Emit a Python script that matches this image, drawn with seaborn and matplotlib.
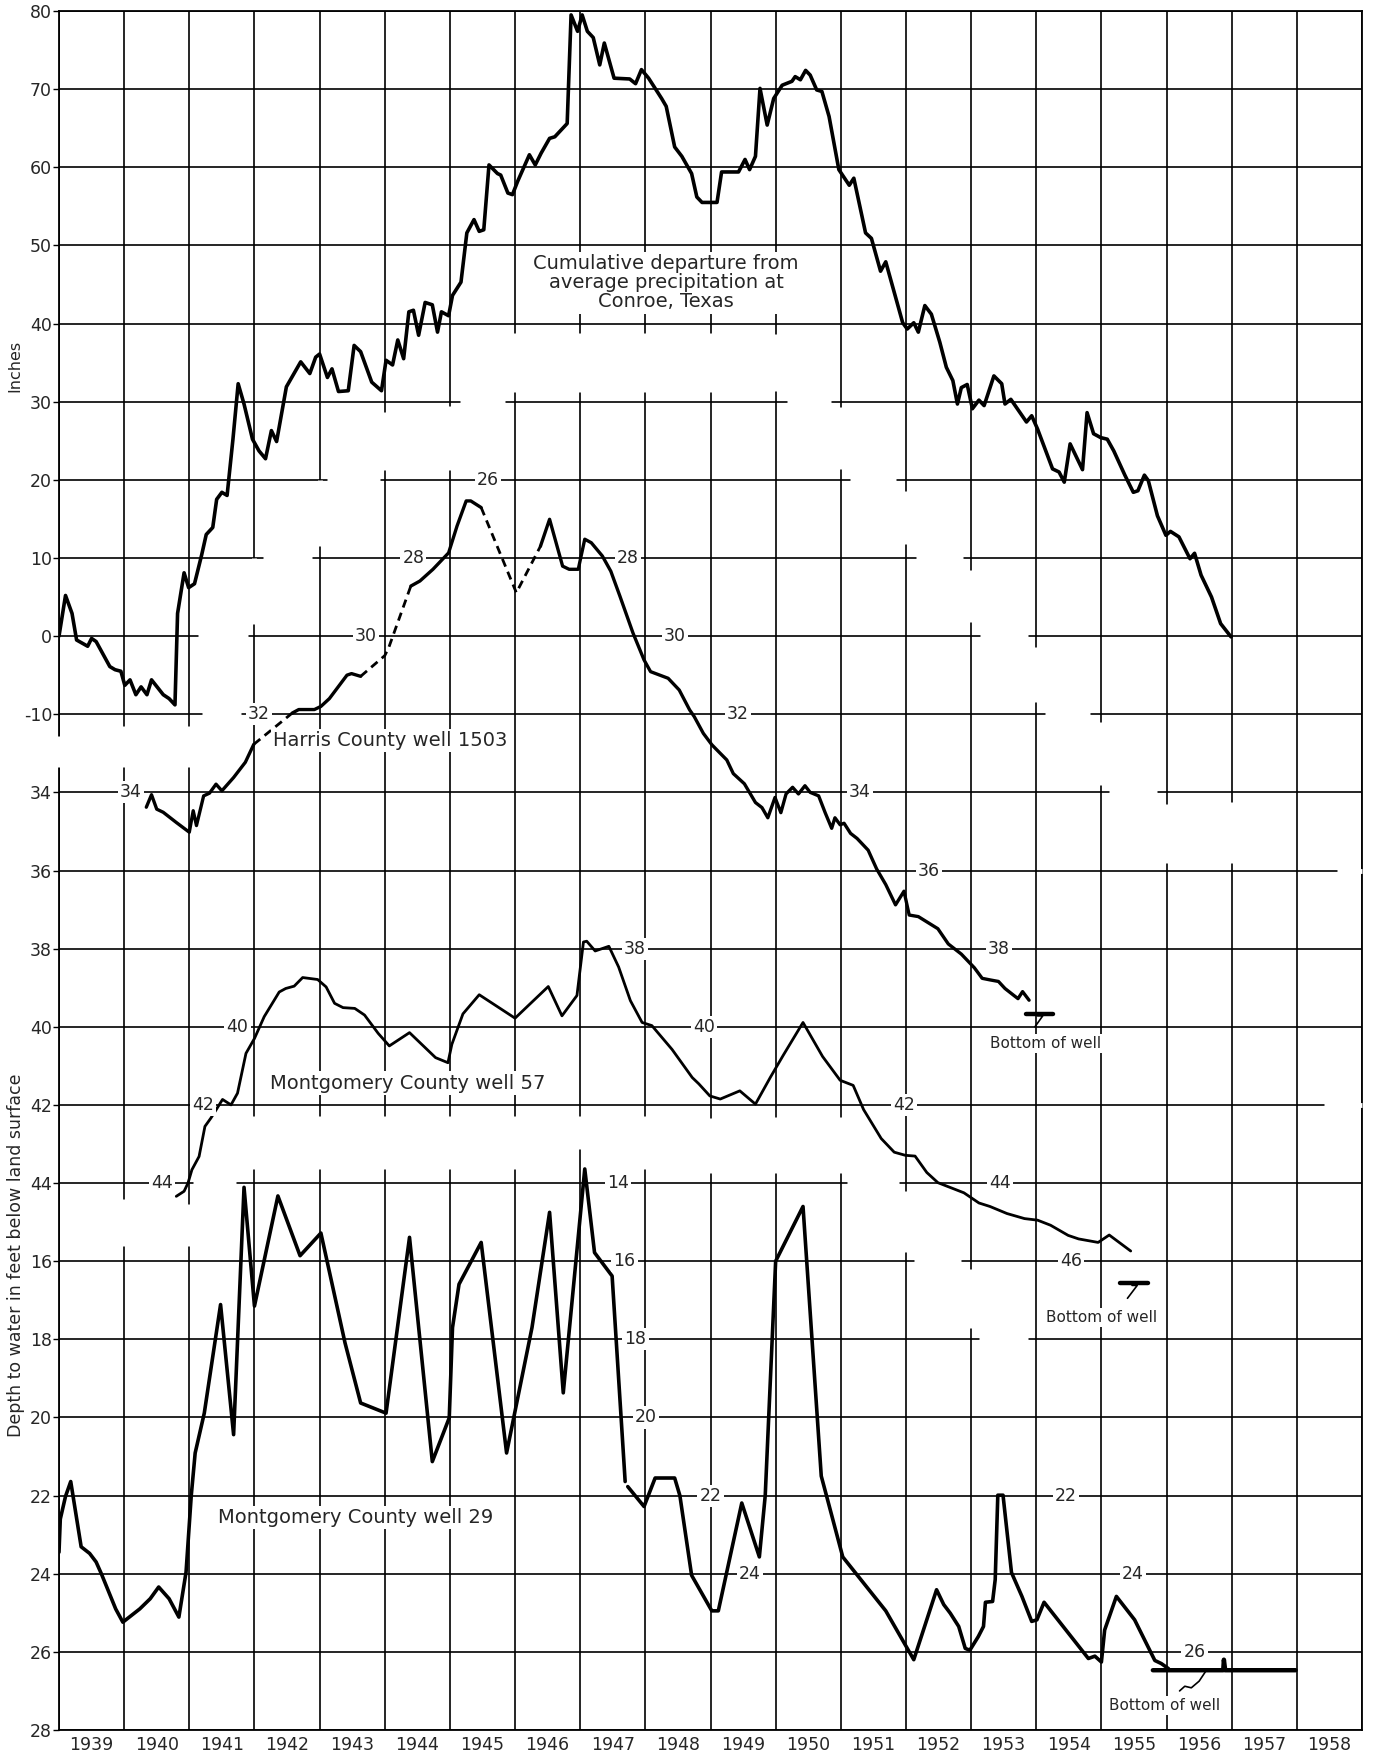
import numpy as np
import pandas as pd
import seaborn as sns
import matplotlib.pyplot as plt

# Cumulative departure from average precipitation at Conroe, Texas (inches)
precip_year = [1939.0, 1939.1, 1939.2, 1939.27, 1939.4, 1939.44, 1939.5, 1939.57, 1939.78, 1939.86,
               1939.95, 1940.01, 1940.09, 1940.18, 1940.26, 1940.35, 1940.42, 1940.6, 1940.69, 1940.78,
               1940.82, 1940.92, 1940.99, 1941.08, 1941.19, 1941.26, 1941.36, 1941.42, 1941.5, 1941.58,
               1941.67, 1941.75, 1941.84, 1941.97, 1942.07, 1942.17, 1942.26, 1942.34, 1942.49, 1942.71,
               1942.85, 1942.94, 1943.0, 1943.12, 1943.19, 1943.29, 1943.44, 1943.53, 1943.63, 1943.8,
               1943.95, 1944.02, 1944.12, 1944.2, 1944.29, 1944.37, 1944.44, 1944.52, 1944.62, 1944.73,
               1944.81, 1944.87, 1944.98, 1945.04, 1945.17, 1945.26, 1945.37, 1945.45, 1945.52, 1945.6,
               1945.73, 1945.78, 1945.89, 1945.96, 1946.04, 1946.22, 1946.31, 1946.4, 1946.53, 1946.61,
               1946.71, 1946.8, 1946.86, 1946.96, 1947.03, 1947.11, 1947.2, 1947.3, 1947.37, 1947.52,
               1947.76, 1947.85, 1947.94, 1948.05, 1948.25, 1948.32, 1948.45, 1948.56, 1948.71, 1948.79,
               1948.87, 1949.1, 1949.17, 1949.43, 1949.53, 1949.6, 1949.69, 1949.76, 1949.87, 1949.97,
               1950.1, 1950.25, 1950.3, 1950.38, 1950.46, 1950.53, 1950.63, 1950.71, 1950.82, 1950.97,
               1951.13, 1951.2, 1951.38, 1951.47, 1951.61, 1951.69, 1951.95, 1952.02, 1952.12, 1952.19,
               1952.29, 1952.39, 1952.52, 1952.62, 1952.72, 1952.79, 1952.85, 1952.94, 1953.02, 1953.12,
               1953.2, 1953.35, 1953.47, 1953.52, 1953.61, 1953.85, 1953.93, 1954.02, 1954.25, 1954.35,
               1954.43, 1954.52, 1954.71, 1954.78, 1954.88, 1954.99, 1955.09, 1955.19, 1955.36, 1955.49,
               1955.56, 1955.66, 1955.72, 1955.86, 1955.99, 1956.06, 1956.19, 1956.36, 1956.43, 1956.53,
               1956.69, 1956.83, 1956.99]
precip_in = [0.0, 5.2, 2.9, -0.5, -1.1, -1.3, -0.3, -0.7, -3.9, -4.3,
             -4.5, -6.3, -5.6, -7.5, -6.5, -7.5, -5.6, -7.5, -8.0, -8.8,
             2.9, 8.1, 6.2, 6.7, 10.4, 13.0, 13.9, 17.5, 18.4, 18.0,
             25.2, 32.3, 29.7, 25.2, 23.7, 22.7, 26.3, 24.9, 31.9, 35.1,
             33.6, 35.7, 36.1, 33.1, 34.2, 31.3, 31.4, 37.2, 36.4, 32.5,
             31.4, 35.3, 34.7, 37.9, 35.5, 41.5, 41.7, 38.5, 42.7, 42.4,
             38.9, 41.5, 41.0, 43.6, 45.3, 51.6, 53.3, 51.8, 52.0, 60.3,
             59.2, 59.0, 56.7, 56.5, 58.2, 61.6, 60.3, 61.8, 63.7, 63.9,
             64.8, 65.6, 79.5, 77.4, 79.5, 77.4, 76.6, 73.1, 75.9, 71.4,
             71.3, 70.7, 72.5, 71.4, 68.8, 67.8, 62.6, 61.4, 59.2, 56.2,
             55.5, 55.5, 59.4, 59.4, 61.0, 59.7, 61.4, 70.1, 65.4, 68.8,
             70.5, 71.0, 71.6, 71.2, 72.4, 71.8, 69.9, 69.7, 66.5, 59.7,
             57.7, 58.6, 51.6, 50.9, 46.7, 47.9, 40.1, 39.3, 40.1, 38.9,
             42.3, 41.2, 37.6, 34.4, 32.7, 29.7, 31.8, 32.2, 29.1, 30.2,
             29.5, 33.3, 32.3, 29.7, 30.3, 27.4, 28.2, 26.5, 21.4, 21.0,
             19.7, 24.6, 21.3, 28.6, 25.9, 25.4, 25.2, 23.7, 20.6, 18.4,
             18.6, 20.6, 19.9, 15.4, 12.9, 13.4, 12.7, 9.9, 10.6, 7.8,
             5.0, 1.6, -0.1]

# Harris County well 1503, depth to water (ft); piece = continuous stretch, dashed = estimated
harris_year = [1940.34, 1940.42, 1940.5, 1940.6, 1940.8, 1941.0, 1941.06, 1941.11, 1941.22, 1941.31,
               1941.41, 1941.5, 1941.68, 1941.86, 1941.99,
               1941.99, 1942.58,
               1942.58, 1942.68, 1942.92, 1943.02, 1943.15, 1943.42, 1943.49, 1943.63,
               1943.63, 1944.0, 1944.06, 1944.4,
               1944.4, 1944.54, 1944.74, 1944.98, 1945.11, 1945.25, 1945.32, 1945.48,
               1945.48, 1946.02, 1946.39,
               1946.39, 1946.53, 1946.63, 1946.73, 1946.83, 1946.97, 1947.07, 1947.17, 1947.34, 1947.47,
               1947.61, 1947.81, 1947.98, 1948.08, 1948.35, 1948.52, 1948.68, 1948.75, 1948.89, 1949.02,
               1949.09, 1949.25, 1949.35, 1949.52, 1949.69, 1949.79, 1949.88, 1949.99, 1950.08, 1950.16,
               1950.26, 1950.35, 1950.45, 1950.53, 1950.66, 1950.76, 1950.86, 1950.91, 1950.99, 1951.05,
               1951.15, 1951.25, 1951.42, 1951.55, 1951.69, 1951.84, 1951.97, 1952.05, 1952.19, 1952.49,
               1952.65, 1952.85, 1953.05, 1953.17, 1953.29, 1953.42, 1953.52, 1953.65, 1953.72, 1953.79,
               1953.89]
harris_depth = [34.38, 34.06, 34.43, 34.51, 34.77, 35.02, 34.47, 34.85, 34.09, 34.02,
                33.79, 33.96, 33.62, 33.23, 32.77,
                32.77, 31.97,
                31.97, 31.88, 31.88, 31.8, 31.6, 31.0, 30.96, 31.03,
                31.03, 30.5, 30.3, 28.72,
                28.72, 28.59, 28.29, 27.87, 27.18, 26.54, 26.54, 26.71,
                26.71, 28.89, 27.7,
                27.7, 27.01, 27.61, 28.21, 28.29, 28.29, 27.52, 27.61, 27.95, 28.34,
                28.98, 29.92, 30.61, 30.91, 31.08, 31.38, 31.89, 32.06, 32.49, 32.78,
                32.9, 33.17, 33.52, 33.78, 34.26, 34.39, 34.65, 34.13, 34.52, 34.04,
                33.87, 34.04, 33.83, 34.0, 34.09, 34.52, 34.92, 34.65, 34.83, 34.79,
                35.05, 35.18, 35.48, 35.96, 36.36, 36.88, 36.53, 37.14, 37.18, 37.49,
                37.88, 38.14, 38.49, 38.76, 38.8, 38.84, 39.02, 39.19, 39.28, 39.1,
                39.32]
harris_piece = [0] * 15 + [1] * 2 + [2] * 8 + [3] * 4 + [4] * 8 + [5] * 3 + [6] * 61
harris_dashed_pieces = [1, 3, 5]

# Montgomery County well 57, depth to water (ft)
m57_year = [1940.8, 1940.92, 1940.98, 1941.04, 1941.15, 1941.24, 1941.33, 1941.41, 1941.51, 1941.64,
            1941.74, 1941.87, 1942.0, 1942.15, 1942.38, 1942.48, 1942.61, 1942.74, 1942.97, 1943.1,
            1943.23, 1943.36, 1943.54, 1943.69, 1943.9, 1944.07, 1944.38, 1944.78, 1944.97, 1945.03,
            1945.2, 1945.45, 1946.0, 1946.51, 1946.72, 1946.95, 1947.05, 1947.1, 1947.23, 1947.44,
            1947.59, 1947.77, 1947.95, 1948.1, 1948.41, 1948.72, 1948.82, 1948.99, 1949.15, 1949.45,
            1949.69, 1949.92, 1950.12, 1950.42, 1950.72, 1950.99, 1951.19, 1951.35, 1951.62, 1951.82,
            1951.99, 1952.14, 1952.32, 1952.49, 1952.69, 1952.89, 1953.12, 1953.29, 1953.55, 1953.82,
            1954.02, 1954.22, 1954.49, 1954.65, 1954.95, 1955.12, 1955.45]
m57_depth = [44.34, 44.21, 44.0, 43.66, 43.32, 42.55, 42.34, 42.13, 41.86, 42.0,
             41.7, 40.68, 40.3, 39.74, 39.11, 39.02, 38.96, 38.74, 38.79, 38.98,
             39.4, 39.51, 39.53, 39.7, 40.17, 40.49, 40.15, 40.79, 40.92, 40.45,
             39.67, 39.18, 39.78, 38.97, 39.72, 39.2, 37.83, 37.81, 38.06, 37.94,
             38.47, 39.33, 39.89, 39.97, 40.58, 41.3, 41.46, 41.77, 41.85, 41.64,
             41.98, 41.29, 40.72, 39.89, 40.76, 41.37, 41.5, 42.12, 42.86, 43.21,
             43.29, 43.31, 43.73, 43.99, 44.12, 44.25, 44.51, 44.6, 44.78, 44.91,
             44.95, 45.08, 45.34, 45.43, 45.52, 45.33, 45.74]

# Montgomery County well 29, depth to water (ft)
m29_year = [1939.0, 1939.02, 1939.1, 1939.18, 1939.34, 1939.47, 1939.57, 1939.65, 1939.87, 1939.98,
            1940.24, 1940.4, 1940.53, 1940.69, 1940.84, 1940.95, 1941.03, 1941.09, 1941.23, 1941.48,
            1941.68, 1941.84, 1942.0, 1942.36, 1942.7, 1943.02, 1943.39, 1943.63, 1944.02, 1944.38,
            1944.73, 1944.99, 1945.04, 1945.14, 1945.48, 1945.87, 1946.26, 1946.53, 1946.74, 1947.07,
            1947.22, 1947.49, 1947.69,
            1947.73, 1947.98, 1948.15, 1948.45, 1948.53, 1948.71, 1949.02, 1949.12, 1949.48, 1949.75,
            1949.84, 1950.0, 1950.42, 1950.7, 1950.78, 1951.03, 1951.69, 1952.12, 1952.47, 1952.58,
            1952.68, 1952.81, 1952.91, 1952.98, 1953.11, 1953.19, 1953.22, 1953.33, 1953.37, 1953.41,
            1953.49, 1953.62, 1953.78, 1953.93, 1954.01, 1954.12, 1954.29, 1954.8, 1954.9, 1955.0,
            1955.05, 1955.23, 1955.51, 1955.82, 1955.92, 1956.03]
m29_depth = [23.45, 22.6, 22.02, 21.64, 23.31, 23.48, 23.7, 24.0, 24.9, 25.24,
             24.9, 24.64, 24.34, 24.64, 25.11, 23.96, 22.0, 20.91, 19.89, 17.11,
             20.44, 14.11, 17.15, 14.33, 15.86, 15.28, 18.09, 19.63, 19.89, 15.39,
             21.13, 20.01, 17.7, 16.59, 15.52, 20.91, 17.7, 14.75, 19.37, 13.64,
             15.78, 16.38, 21.64,
             21.77, 22.28, 21.55, 21.55, 22.0, 24.04, 24.95, 24.95, 22.19, 23.57,
             22.0, 16.0, 14.6, 21.5, 22.0, 23.57, 24.95, 26.2, 24.41, 24.79,
             25.01, 25.35, 25.91, 25.96, 25.61, 25.35, 24.73, 24.71, 24.15, 21.99,
             21.99, 23.97, 24.58, 25.22, 25.18, 24.73, 25.09, 26.17, 26.11, 26.26,
             25.44, 24.58, 25.18, 26.22, 26.3, 26.43]
m29_piece = [0] * 43 + [1] * (len(m29_year) - 43)

# water level at bottom of well 29 (dry well)
m29_bottom_year = [1955.79, 1956.87, 1956.88, 1956.9, 1957.98]
m29_bottom_depth = [26.47, 26.47, 26.2, 26.47, 26.47]

# left axis tick labels, one per grid line
ytick_labels = ['80', '70', '60', '50', '40', '30', '20', '10', '0', '-10',
                '34', '36', '38', '40', '42', '44',
                '16', '18', '20', '22', '24', '26', '28']
years = list(range(1939, 1959))

# breaks in the drafted grid where the separate graphs meet (grid units)
gaps_h = [(5, 1945.15, 1945.84), (6, 1943.12, 1943.93), (7, 1942.13, 1942.88),
          (8, 1941.14, 1941.9), (9, 1941.19, 1941.8),
          (5, 1950.17, 1950.85), (6, 1951.14, 1951.85), (7, 1952.15, 1952.87),
          (8, 1953.14, 1953.87), (9, 1954.14, 1954.82), (10, 1955.12, 1955.85),
          (11, 1958.62, 1959.0), (14, 1958.42, 1959.0),
          (15, 1941.05, 1941.72), (15, 1951.09, 1951.89), (16, 1952.12, 1952.85),
          (17, 1953.12, 1953.88)]
gaps_v = [(1942, 7.0, 7.85), (1943, 6.0, 6.85), (1944, 5.13, 5.87), (1945, 5.05, 5.87),
          (1946, 4.12, 4.88), (1947, 4.12, 4.88), (1948, 4.12, 4.88), (1949, 4.12, 4.88),
          (1950, 4.14, 4.86), (1951, 5.07, 5.86), (1952, 6.14, 6.82), (1953, 7.16, 7.82),
          (1954, 8.14, 8.84), (1955, 9.1, 9.9), (1956, 10.15, 10.9), (1957, 10.12, 10.9),
          (1939, 9.28, 9.68), (1940, 9.15, 9.68), (1941, 9.15, 9.68),
          (1942, 14.14, 14.82), (1943, 14.14, 14.82), (1944, 14.14, 14.82), (1945, 14.14, 14.82),
          (1946, 14.14, 14.82), (1947, 14.14, 14.56), (1948, 14.14, 14.82), (1949, 14.17, 14.87),
          (1950, 14.15, 14.87), (1951, 14.15, 14.87), (1952, 15.1, 15.88), (1953, 16.1, 16.86),
          (1940, 15.2, 15.8), (1941, 15.27, 15.8)]

sns.set_style('white')
plt.rcParams['font.family'] = ['DejaVu Sans']

fig = plt.figure(figsize=(13.74, 17.54), dpi=100)
ax = fig.add_axes([59 / 1374, 24 / 1754, 1303 / 1374, 1719 / 1754])
ax.set_xlim(1939, 1959)
ax.set_ylim(22, 0)

# grid
ax.set_yticks(range(23))
ax.set_yticklabels(ytick_labels, fontsize=12.5)
ax.set_xticks([y + 0.5 for y in years])
ax.set_xticklabels([str(y) for y in years], fontsize=12.5)
ax.set_xticks(range(1939, 1960), minor=True)
ax.tick_params(axis='x', which='major', length=0, pad=4)
ax.tick_params(axis='x', which='minor', length=17, width=1.2, color='black', direction='out')
ax.tick_params(axis='y', length=4, width=1.0, color='black', pad=1)
ax.grid(False)
ax.grid(True, which='major', axis='y', color='black', lw=1.2)
ax.grid(True, which='minor', axis='x', color='black', lw=1.2)
for s in ax.spines.values():
    s.set_color('black')
    s.set_linewidth(1.3)
for yv, x0, x1 in gaps_h:
    ax.plot([x0, x1], [yv, yv], color='white', lw=3.5, solid_capstyle='butt', zorder=3,
            clip_on=False)
for xv, y0, y1 in gaps_v:
    ax.plot([xv, xv], [y0, y1], color='white', lw=3.5, solid_capstyle='butt', zorder=3,
            clip_on=False)

ax.set_ylabel('')
fig.text(15 / 1374, 1 - 366 / 1754, 'Inches', rotation=90, ha='center', va='center', fontsize=11.5)
fig.text(16 / 1374, 1 - 1255 / 1754, 'Depth to water in feet below land surface', rotation=90,
         ha='center', va='center', fontsize=12.5)

# separate vertical scales sharing the grid
ax_p = ax.twinx()
ax_p.set_ylim(-140, 80)
ax_h = ax.twinx()
ax_h.set_ylim(58, 14)
ax_m = ax.twinx()
ax_m.set_ylim(28, -16)
for a in (ax_p, ax_h, ax_m):
    a.set_axis_off()

df_p = pd.DataFrame({'year': precip_year, 'inches': precip_in})
sns.lineplot(data=df_p, x='year', y='inches', ax=ax_p, color='black', lw=2.6, sort=False,
             estimator=None)

df_h = pd.DataFrame({'year': harris_year, 'depth': harris_depth, 'piece': harris_piece})
dashed = df_h['piece'].isin(harris_dashed_pieces)
sns.lineplot(data=df_h[~dashed], x='year', y='depth', units='piece', estimator=None, sort=False,
             ax=ax_h, color='black', lw=2.4)
sns.lineplot(data=df_h[dashed], x='year', y='depth', units='piece', estimator=None, sort=False,
             ax=ax_h, color='black', lw=2.0, linestyle=(0, (3, 2)))

df_57 = pd.DataFrame({'year': m57_year, 'depth': m57_depth})
sns.lineplot(data=df_57, x='year', y='depth', ax=ax_h, color='black', lw=2.0, sort=False,
             estimator=None)

df_29 = pd.DataFrame({'year': m29_year, 'depth': m29_depth, 'piece': m29_piece})
sns.lineplot(data=df_29, x='year', y='depth', units='piece', estimator=None, sort=False,
             ax=ax_m, color='black', lw=2.6)
sns.lineplot(x=m29_bottom_year, y=m29_bottom_depth, ax=ax_m, color='black', lw=3.2, sort=False,
             estimator=None)

# bottom-of-well bars for well 1503 and well 57
ax_h.plot([1953.85, 1954.25], [39.68, 39.68], color='black', lw=3.2)
ax_h.plot([1954.02, 1954.1, 1953.98], [39.72, 39.72, 40.0], color='black', lw=1.2)
ax_h.plot([1955.29, 1955.72], [46.55, 46.55], color='black', lw=3.2)
ax_h.plot([1955.47, 1955.55, 1955.4], [46.62, 46.62, 46.95], color='black', lw=1.2)
ax_m.plot([1956.2, 1956.28, 1956.38, 1956.5, 1956.6], [27.0, 26.88, 26.92, 26.75, 26.5],
          color='black', lw=1.2)

box = dict(facecolor='white', edgecolor='none', pad=1.5)
fs = 12.5
# inline scale labels
for x, v in [(1945.58, 26), (1944.44, 28), (1947.73, 28), (1943.71, 30), (1948.45, 30),
             (1942.07, 32), (1949.42, 32), (1940.1, 34), (1951.29, 34), (1952.35, 36),
             (1953.43, 38), (1947.84, 38), (1941.74, 40), (1948.9, 40), (1941.21, 42),
             (1951.97, 42), (1940.58, 44), (1953.45, 44), (1954.53, 46)]:
    ax_h.text(x, v, str(v), ha='center', va='center', fontsize=fs, bbox=box)
for x, v in [(1947.58, 14), (1947.68, 16), (1947.85, 18), (1948.01, 20), (1949.0, 22),
             (1954.46, 22), (1949.6, 24), (1955.48, 24), (1956.43, 26)]:
    ax_m.text(x, v, str(v), ha='center', va='center', fontsize=fs, bbox=box)

ax_p.text(1948.32, 45.2, 'Cumulative departure from\naverage precipitation at\nConroe, Texas',
          ha='center', va='center', fontsize=14, linespacing=1.0, bbox=box)
ax_h.text(1944.08, 32.67, 'Harris County well 1503', ha='center', va='center', fontsize=14,
          bbox=box)
ax_h.text(1944.35, 41.44, 'Montgomery County well 57', ha='center', va='center', fontsize=14,
          bbox=box)
ax_m.text(1943.55, 22.56, 'Montgomery County well 29', ha='center', va='center', fontsize=14,
          bbox=box)
ax_h.text(1954.15, 40.42, 'Bottom of well', ha='center', va='center', fontsize=11, bbox=box)
ax_h.text(1955.0, 47.44, 'Bottom of well', ha='center', va='center', fontsize=11, bbox=box)
ax_m.text(1955.97, 27.38, 'Bottom of well', ha='center', va='center', fontsize=11, bbox=box)

fig.savefig('out.png', dpi=100)
